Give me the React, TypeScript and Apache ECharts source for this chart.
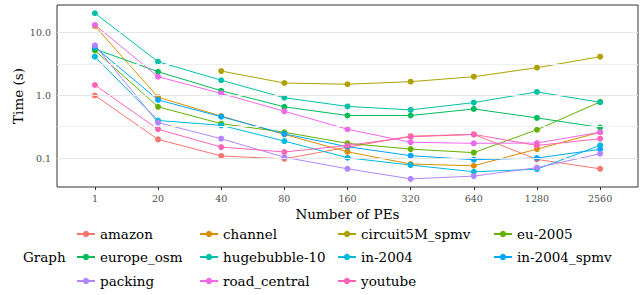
import React, { useEffect, useRef } from "react";
import * as echarts from "echarts";

const categories = ["1", "20", "40", "80", "160", "320", "640", "1280", "2560"];
const yTicks = [0.1, 1, 10];
const yMinor = [0.316, 3.16];

const amazon = [1.0, 0.2, 0.109, 0.098, 0.15, 0.225, 0.24, 0.096, 0.068];
const channel = [12.8, 0.94, 0.47, 0.24, 0.127, 0.081, 0.076, 0.14, 0.26];
const circuit5M_spmv = [null, null, 2.45, 1.58, 1.51, 1.66, 1.99, 2.77, 4.15];
const eu2005 = [5.2, 0.66, 0.356, 0.26, 0.173, 0.14, 0.123, 0.285, 0.79];
const europe_osm = [5.5, 2.39, 1.19, 0.66, 0.48, 0.48, 0.61, 0.44, 0.31];
const hugebubble10 = [20.4, 3.45, 1.75, 0.92, 0.67, 0.59, 0.77, 1.14, 0.78];
const in2004 = [4.15, 0.4, 0.335, 0.188, 0.102, 0.078, 0.061, 0.067, 0.161];
const in2004_spmv = [5.9, 0.85, 0.46, 0.245, 0.153, 0.11, 0.095, 0.101, 0.139];
const packing = [6.3, 0.37, 0.205, 0.104, 0.068, 0.047, 0.052, 0.071, 0.118];
const road_central = [13.3, 1.99, 1.08, 0.56, 0.29, 0.18, 0.173, 0.175, 0.26];
const youtube = [1.47, 0.29, 0.151, 0.126, 0.16, 0.22, 0.24, 0.16, 0.205];

const seriesNames = [
  "amazon", "channel", "circuit5M_spmv", "eu-2005",
  "europe_osm", "hugebubble-10", "in-2004", "in-2004_spmv",
  "packing", "road_central", "youtube",
];
const seriesValues = [
  amazon, channel, circuit5M_spmv, eu2005,
  europe_osm, hugebubble10, in2004, in2004_spmv,
  packing, road_central, youtube,
];
const colors = [
  "#F8766D", "#DB8E00", "#AEA200", "#64B200", "#00BD5C", "#00C1A7",
  "#00BADE", "#00A6FF", "#B385FF", "#EF67EB", "#FF63B6",
];

const FONT = "DejaVu Serif";

export default function App() {
  const ref = useRef<HTMLDivElement>(null);
  useEffect(() => {
    if (!ref.current) return;
    const chart = echarts.init(ref.current, null, { renderer: "svg" });

    const series: any[] = seriesNames.map((name, i) => ({
      name,
      type: "line",
      z: 3,
      data: seriesValues[i]
        .map((v, j) => (v == null ? null : [j, v]))
        .filter((d) => d != null),
      symbol: "circle",
      symbolSize: 6,
      showSymbol: true,
      itemStyle: { color: colors[i] },
      lineStyle: { color: colors[i], width: 1 },
    }));

    series.unshift({
      name: "__grid",
      type: "line",
      z: 1,
      data: [[0, 1]],
      symbol: "none",
      lineStyle: { opacity: 0 },
      silent: true,
      markLine: {
        silent: true,
        symbol: "none",
        label: { show: false },
        data: [
          ...yTicks.map((v) => ({ yAxis: v, lineStyle: { color: "#E6E6E6", width: 1, type: "solid" } })),
          ...yMinor.map((v) => ({ yAxis: v, lineStyle: { color: "#EFEFEF", width: 1, type: "solid" } })),
        ],
      },
    });

    const colLefts = [76, 199, 337, 493];
    const rowTops = [227, 250, 274];
    const legends = seriesNames.map((name, i) => ({
      data: [name],
      left: colLefts[i % 4],
      top: rowTops[Math.floor(i / 4)],
      orient: "horizontal",
      selectedMode: false,
      itemWidth: 18,
      itemHeight: 8,
      itemGap: 0,
      padding: 0,
      textStyle: { fontFamily: FONT, fontSize: 13.5, color: "#000" },
    }));

    chart.setOption({
      animation: false,
      backgroundColor: "#fff",
      grid: {
        left: 57,
        top: 5,
        width: 581,
        height: 182,
        show: true,
        borderColor: "#333333",
        borderWidth: 1,
        backgroundColor: "#fff",
      },
      xAxis: {
        type: "value",
        min: -0.6,
        max: 8.6,
        axisLine: { show: false },
        splitLine: { show: false },
        axisTick: {
          show: true,
          length: 3,
          lineStyle: { color: "#333333" },
          customValues: categories.map((_, i) => i),
        },
        axisLabel: {
          show: true,
          margin: 6,
          fontFamily: FONT,
          fontSize: 9.5,
          color: "#4D4D4D",
          customValues: categories.map((_, i) => i),
          formatter: (v: number) => categories[Math.round(v)] ?? "",
        },
      },
      yAxis: {
        type: "log",
        logBase: 10,
        min: 0.0349,
        max: 27.6,
        axisLine: { show: false },
        splitLine: { show: false },
        minorSplitLine: { show: false },
        axisTick: {
          show: true,
          length: 3,
          lineStyle: { color: "#333333" },
          customValues: yTicks,
        },
        axisLabel: {
          show: true,
          margin: 6,
          fontFamily: FONT,
          fontSize: 9.5,
          color: "#4D4D4D",
          customValues: yTicks,
          formatter: (v: number) => Number(v).toFixed(1),
        },
      },
      legend: legends,
      graphic: [
        {
          type: "text",
          left: 23,
          top: 250,
          style: { text: "Graph", fontFamily: FONT, fontSize: 13.5, fill: "#000" },
        },
        {
          type: "text",
          x: 18,
          y: 96,
          rotation: Math.PI / 2,
          style: {
            text: "Time (s)",
            fontFamily: FONT,
            fontSize: 13.5,
            fill: "#000",
            align: "center",
            verticalAlign: "middle",
          },
        },
        {
          type: "text",
          x: 347.5,
          y: 214,
          style: {
            text: "Number of PEs",
            fontFamily: FONT,
            fontSize: 13.5,
            fill: "#000",
            align: "center",
            verticalAlign: "middle",
          },
        },
      ],
      series,
    });
    return () => chart.dispose();
  }, []);
  return <div ref={ref} style={{ width: 644, height: 295, position: "absolute", left: 0, top: 0 }} />;
}
